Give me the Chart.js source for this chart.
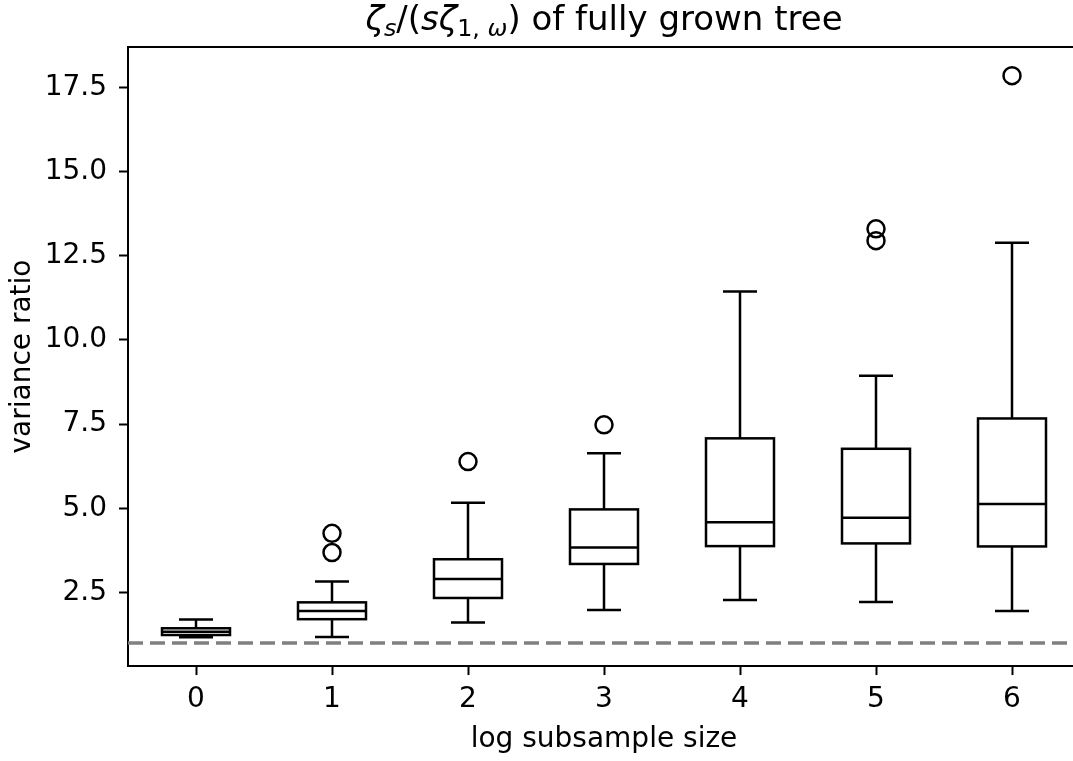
<!DOCTYPE html>
<html>
<head>
<meta charset="utf-8">
<script src="https://cdn.jsdelivr.net/npm/chart.js@4.4.1/dist/chart.umd.min.js"></script>
<style>
  body { margin: 0; overflow: hidden; background: #fff; }
  #wrap { position: relative; width: 1073px; height: 761px; overflow: hidden; }
  #title {
    position: absolute; left: 0; width: 1208px; top: -2px; text-align: center;
    font-family: "DejaVu Sans"; font-size: 34px; line-height: 40px; color: #000;
  }
  #title sub { font-size: 0.7em; vertical-align: -0.25em; line-height: 0; }
  canvas { position: absolute; left: 0; top: 0; }
</style>
</head>
<body>
<div id="wrap">
  <canvas id="chart" width="1140" height="761"></canvas>
  <div id="title"><i>ζ<sub>s</sub></i>/(<i>sζ</i><sub>1, <i>ω</i></sub>) of fully grown tree</div>
</div>
<script>
// log subsample size, one box per value
var labels = [0, 1, 2, 3, 4, 5, 6];
var whiskerLow = [1.17, 1.18, 1.61, 1.98, 2.28, 2.22, 1.95];
var q1 = [1.24, 1.71, 2.34, 3.35, 3.88, 3.96, 3.87];
var median = [1.34, 1.95, 2.90, 3.84, 4.59, 4.72, 5.13];
var q3 = [1.44, 2.21, 3.49, 4.97, 7.08, 6.77, 7.67];
var whiskerHigh = [1.70, 2.83, 5.17, 6.64, 11.44, 8.94, 12.89];
var outliers = [[], [3.69, 4.26], [6.39], [7.48], [], [12.95, 13.3], [17.85]];
var yTicks = [2.5, 5.0, 7.5, 10.0, 12.5, 15.0, 17.5];
var refLine = 1.0;

var outlierPoints = [];
labels.forEach(function (x, i) {
  outliers[i].forEach(function (v) {
    outlierPoints.push({ x: x, y: v });
  });
});

var font = { family: "DejaVu Sans", size: 28 };

// draws box, median, whiskers and caps through the chart scales
var boxPlugin = {
  id: "boxes",
  beforeDatasetsDraw: function (chart) {
    var ctx = chart.ctx;
    var xs = chart.scales.x;
    var ys = chart.scales.y;
    ctx.save();
    ctx.strokeStyle = "#000";
    ctx.lineWidth = 2.5;
    labels.forEach(function (x, i) {
      var xl = xs.getPixelForValue(x - 0.25);
      var xr = xs.getPixelForValue(x + 0.25);
      var xc = xs.getPixelForValue(x);
      var cl = xs.getPixelForValue(x - 0.125);
      var cr = xs.getPixelForValue(x + 0.125);
      var yq1 = ys.getPixelForValue(q1[i]);
      var yq3 = ys.getPixelForValue(q3[i]);
      var ym = ys.getPixelForValue(median[i]);
      var ylo = ys.getPixelForValue(whiskerLow[i]);
      var yhi = ys.getPixelForValue(whiskerHigh[i]);
      ctx.strokeRect(xl, yq3, xr - xl, yq1 - yq3);
      ctx.beginPath();
      ctx.moveTo(xl, ym); ctx.lineTo(xr, ym);
      ctx.moveTo(xc, yq1); ctx.lineTo(xc, ylo);
      ctx.moveTo(xc, yq3); ctx.lineTo(xc, yhi);
      ctx.moveTo(cl, ylo); ctx.lineTo(cr, ylo);
      ctx.moveTo(cl, yhi); ctx.lineTo(cr, yhi);
      ctx.stroke();
    });
    ctx.restore();
  },
  afterDraw: function (chart) {
    var a = chart.chartArea;
    var ctx = chart.ctx;
    ctx.save();
    ctx.strokeStyle = "#000";
    ctx.lineWidth = 2;
    ctx.beginPath();
    ctx.moveTo(a.left - 1, a.top);
    ctx.lineTo(a.right, a.top);
    ctx.stroke();
    ctx.restore();
  }
};

var config = {
  type: "scatter",
  data: {
    datasets: [
      {
        type: "line",
        data: [{ x: -0.5, y: refLine }, { x: 6.5, y: refLine }],
        borderColor: "#808080",
        borderWidth: 3.5,
        borderDash: [15, 7],
        pointRadius: 0,
        fill: false,
      },
      {
        data: outlierPoints,
        pointStyle: "circle",
        pointRadius: 8.5,
        borderColor: "#000",
        borderWidth: 2.5,
        backgroundColor: "rgba(0,0,0,0)",
      },
    ],
  },
  options: {
    responsive: false,
    animation: false,
    layout: { padding: { top: 47, right: 60, left: 0, bottom: 0 } },
    plugins: { legend: { display: false }, tooltip: { enabled: false } },
    scales: {
      x: {
        type: "linear",
        min: -0.5,
        max: 6.5,
        afterBuildTicks: function (scale) {
          scale.ticks = labels.map(function (v) { return { value: v }; });
        },
        afterFit: function (scale) { scale.height = 95; },
        grid: { drawOnChartArea: false, tickLength: 9, tickWidth: 2, color: "#000" },
        border: { color: "#000", width: 2 },
        ticks: { font: font, color: "#000", padding: 8 },
        title: { display: true, text: "log subsample size", font: font, color: "#000", padding: { top: 0, bottom: 4 } },
      },
      y: {
        min: 0.32,
        max: 18.7,
        afterBuildTicks: function (scale) {
          scale.ticks = yTicks.map(function (v) { return { value: v }; });
        },
        afterFit: function (scale) { scale.width = 128; },
        grid: { drawOnChartArea: false, tickLength: 9, tickWidth: 2, color: "#000" },
        border: { color: "#000", width: 2 },
        ticks: {
          font: font, color: "#000", padding: 12,
          callback: function (v) { return v.toFixed(1); },
        },
        title: { display: true, text: "variance ratio", font: font, color: "#000", padding: { top: 6, bottom: 0 } },
      },
    },
  },
  plugins: [boxPlugin],
};

var myChart = new Chart(document.getElementById("chart"), config);
</script>
</body>
</html>
